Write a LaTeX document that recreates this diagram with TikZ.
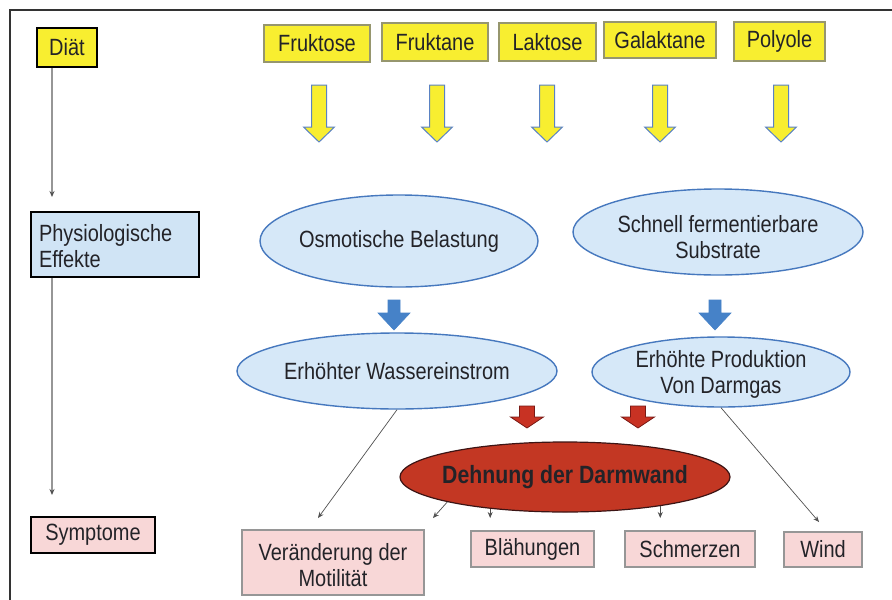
\documentclass[tikz,border=0pt]{standalone}
\usepackage{fontspec}
\setmainfont[FakeStretch=0.85]{Liberation Sans}
\usetikzlibrary{shapes.geometric,arrows.meta}
\definecolor{yfill}{RGB}{248,238,48}
\definecolor{yborder}{RGB}{150,150,110}
\definecolor{yarrborder}{RGB}{90,130,195}
\definecolor{bfill}{RGB}{214,232,248}
\definecolor{bborder}{RGB}{70,120,190}
\definecolor{barrfill}{RGB}{70,130,200}
\definecolor{rarrfill}{RGB}{200,50,35}
\definecolor{rarrborder}{RGB}{120,25,20}
\definecolor{dfill}{RGB}{195,55,35}
\definecolor{dborder}{RGB}{60,20,20}
\definecolor{pfill}{RGB}{248,215,215}
\definecolor{pborder}{RGB}{150,150,150}
\definecolor{physfill}{RGB}{208,228,245}
\definecolor{txt}{RGB}{35,35,40}
\definecolor{linegray}{RGB}{150,150,150}
\definecolor{arrgray}{RGB}{80,80,80}
\newcommand\blkarrow[7]{\draw[#7] (#1-#4,#2) -- (#1+#4,#2) -- (#1+#4,#3) -- (#1+#5,#3) -- (#1,#6) -- (#1-#5,#3) -- (#1-#4,#3) -- cycle;}
\newcommand\lowerby[2]{\raisebox{-#1}[\height][\depth]{#2}}
\tikzset{
  every node/.style={text=txt, font=\fontsize{23.5}{26}\selectfont},
  ybox/.style={draw=yborder, line width=1.2pt, fill=yfill, inner sep=0pt},
  pbox/.style={draw=pborder, line width=1.2pt, fill=pfill, inner sep=0pt, align=center},
  bell/.style={ellipse, draw=bborder, line width=1.4pt, fill=bfill, inner xsep=-60pt, inner ysep=-14pt, align=center},
  levelbox/.style={draw=black, line width=2.6pt, inner sep=0pt},
  thinarr/.style={draw=arrgray, line width=0.7pt, -{Stealth[length=6pt,width=5pt]}},
  levarr/.style={draw=linegray, line width=1.3pt, -{Stealth[length=6pt,width=5pt,color=arrgray]}},
  yarr/.style={fill=yfill, draw=yarrborder, line width=1pt},
  barr/.style={fill=barrfill, draw=barrfill, line width=0.6pt},
  rarr/.style={fill=rarrfill, draw=rarrborder, line width=0.8pt}
}
\begin{document}
\begin{tikzpicture}[x=1pt,y=-1pt]
\useasboundingbox (0,0) rectangle (892,600);
\fill[white] (0,0) rectangle (892,600);
\draw[line width=1.2pt, draw=black!80] (10,600) -- (10,10) -- (892,10);

% level boxes
\node[levelbox, fill=yfill, minimum width=60pt, minimum height=39pt] (diat) at (67,47.5) {Diät};
\node[levelbox, fill=physfill, minimum width=168pt, minimum height=65pt, text width=152pt, inner xsep=8pt, align=left] (phys) at (115,244.5) {\lowerby{1.5pt}{Physiologische}\\\lowerby{1.5pt}{Effekte}};
\node[levelbox, fill=pfill, minimum width=124pt, minimum height=36pt] (symp) at (93,535) {Symptome};

\coordinate (xline) at (52,0);
\coordinate (a1) at (52,197);
\coordinate (a2) at (52,495);
\draw[levarr] (diat.south -| xline) -- (a1);
\draw[levarr] (phys.south -| xline) -- (a2);

% top boxes
\node[ybox, minimum width=106pt, minimum height=37pt] (fruktose) at (317,43.5) {Fruktose};
\node[ybox, minimum width=106pt, minimum height=38pt] (fruktane) at (435,42) {Fruktane};
\node[ybox, minimum width=97pt, minimum height=38pt] (laktose) at (547.5,42) {Laktose};
\node[ybox, minimum width=112pt, minimum height=36pt] (galaktane) at (660,40) {Galaktane};
\node[ybox, minimum width=91pt, minimum height=39pt] (polyole) at (779.5,41.5) {Polyole};

% yellow arrows
\blkarrow{319}{85}{127}{7.5}{15.5}{142}{yarr}
\blkarrow{437}{85}{127}{7.5}{15.5}{142}{yarr}
\blkarrow{547}{85}{127}{7.5}{15.5}{142}{yarr}
\blkarrow{660}{85}{127}{7.5}{15.5}{142}{yarr}
\blkarrow{781}{85}{127}{7.5}{15.5}{142}{yarr}

% ellipses
\node[bell, minimum width=278pt, minimum height=92pt] (osmo) at (399,241) {Osmotische Belastung};
\node[bell, minimum width=290pt, minimum height=86pt] (schnell) at (718,232) {\lowerby{5pt}{Schnell fermentierbare}\\\lowerby{5pt}{Substrate}};
\node[bell, minimum width=320pt, minimum height=76pt] (wasser) at (397,371) {Erhöhter Wassereinstrom};
\node[bell, minimum width=258pt, minimum height=70pt] (darm) at (721,372) {\lowerby{2.5pt}{Erhöhte Produktion}\\\lowerby{2.5pt}{Von Darmgas}};

% blue arrows
\blkarrow{394}{300}{313}{6}{16}{330}{barr}
\blkarrow{715}{300}{313}{6}{16}{330}{barr}

% red arrows
\blkarrow{527}{406}{417}{7.5}{16.5}{428}{rarr}
\blkarrow{638}{406}{417}{7.5}{16.5}{428}{rarr}

\node[ellipse, draw=dborder, line width=1.2pt, fill=dfill, inner xsep=-60pt, inner ysep=-12pt, minimum width=330pt, minimum height=70pt, font=\fontsize{25}{26}\selectfont\bfseries] (dehn) at (565,477) {Dehnung der Darmwand};

% bottom boxes
\node[pbox, minimum width=182pt, minimum height=65pt] (veraend) at (333,562.5) {\lowerby{3pt}{Veränderung der}\\\lowerby{3pt}{Motilität}};
\node[pbox, minimum width=123pt, minimum height=36pt] (blaeh) at (532.5,549) {Blähungen};
\node[pbox, minimum width=130pt, minimum height=36pt] (schmerz) at (690,549) {Schmerzen};
\node[pbox, minimum width=78pt, minimum height=35pt] (wind) at (823,549.5) {Wind};

% thin connectors
\coordinate (arow) at (0,518);
\coordinate (m1) at (318,518);
\coordinate (m2) at (433,518);
\coordinate (w1) at (819,522);
\draw[thinarr] (wasser.south) -- (m1);
\draw[thinarr] (dehn.192) -- (m2);
\draw[thinarr] (dehn.203) -- (dehn.203 |- arow);
\draw[thinarr] (dehn.343) -- (dehn.343 |- arow);
\draw[thinarr] (darm.south) -- (w1);
\end{tikzpicture}
\end{document}
